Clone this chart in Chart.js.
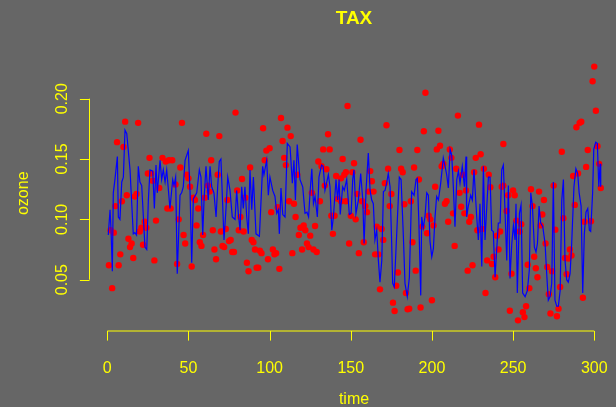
<!DOCTYPE html>
<html>
<head>
<meta charset="utf-8">
<script src="https://cdn.jsdelivr.net/npm/chart.js@4"></script>
<style>
  html, body { margin: 0; padding: 0; background: #666666; }
  canvas { display: block; }
</style>
</head>
<body>
<canvas id="taxChart" width="616" height="407"></canvas>
<script>
// Observed ozone (red points)
const redTime = [
  1, 2, 3, 4, 5, 6, 7, 8, 9, 10, 11, 12, 13, 14, 15, 16, 17, 18, 19, 20, 21, 22, 23, 24, 25, 26, 27, 28, 29, 30,
  32, 34, 36, 37, 38, 39, 40, 42, 43, 44, 45, 46, 47, 48,
  49, 50, 51, 52, 53, 54, 55, 56, 57, 58, 59, 60, 61, 62, 63, 64, 65, 66, 67, 68, 69, 70, 71, 72, 73, 74,
  75, 76, 77, 78, 79, 80, 81, 82, 83, 84, 85, 86, 87, 88, 89, 90, 91, 92, 93, 94, 95, 96, 97, 98,
  99, 100, 101, 102, 103, 104, 105, 106, 107, 108, 109, 110, 111, 112, 113, 114, 115, 116, 117, 118, 119, 120,
  121, 122, 123, 124, 125, 126, 127, 128, 129, 130, 131, 132, 133, 134, 135, 136, 137, 138, 139, 140, 141, 142,
  144, 144, 145, 146, 147,
  147, 148, 149, 150, 151, 152, 153, 154, 155, 156, 157, 158, 159, 160, 161, 162, 163, 164, 165, 166, 167, 168,
  169, 170, 171, 172, 173, 174, 175, 176, 177, 178, 179, 180, 181, 182, 183, 184, 185, 186, 187, 188, 189, 190,
  191, 192, 193, 194, 195, 196,
  197, 198, 199, 200, 201, 202, 203, 204, 205, 206, 207, 208, 209, 210, 211, 212, 213, 214, 215, 216, 217, 218,
  219, 220, 221, 222, 223, 224, 225, 226, 227, 228, 229, 230, 231, 232, 233, 234, 235, 236, 237, 238, 239, 240,
  241, 242, 243, 244, 244,
  246, 247, 248, 249, 250, 251, 252, 253, 254, 255, 256, 257, 258, 259, 260, 261, 262, 263, 264, 265, 266, 267,
  268, 269, 270, 271, 272, 273, 274, 275, 276, 277, 278, 279, 280, 281, 282, 283, 284, 285, 286, 287, 288, 289,
  290, 291, 292, 293, 294, 295, 296, 298, 299, 300, 301, 302, 303, 304
];
const redOzone = [
  0.062, 0.091, 0.043, 0.089, 0.111, 0.164, 0.062, 0.071, 0.115, 0.160, 0.181, 0.120, 0.084, 0.077, 0.080, 0.068, 0.119, 0.121, 0.180, 0.090, 0.093, 0.079, 0.098, 0.093, 0.138, 0.151, 0.138, 0.132, 0.066, 0.099,
  0.126, 0.151, 0.148, 0.109, 0.149, 0.109, 0.149, 0.129, 0.063, 0.100, 0.143, 0.180, 0.087, 0.080,
  0.137, 0.134, 0.127, 0.061, 0.118, 0.116, 0.095, 0.109, 0.081, 0.078, 0.087, 0.118, 0.171, 0.128, 0.123, 0.149, 0.091, 0.075, 0.067, 0.137, 0.169, 0.090, 0.078, 0.077, 0.092, 0.116,
  0.082, 0.083, 0.073, 0.073, 0.1885, 0.124, 0.091, 0.102, 0.1335, 0.090, 0.118, 0.064, 0.057, 0.143, 0.083, 0.081, 0.075, 0.060, 0.060, 0.074, 0.072, 0.1755, 0.149, 0.157,
  0.067, 0.159, 0.106, 0.075, 0.071, 0.072, 0.110, 0.059, 0.184, 0.165, 0.151, 0.145, 0.176, 0.115, 0.169, 0.072, 0.113, 0.102, 0.137, 0.087, 0.093, 0.075,
  0.095, 0.091, 0.080, 0.077, 0.0865, 0.122, 0.075, 0.0945, 0.073, 0.148, 0.115, 0.144, 0.158, 0.128, 0.1415, 0.1705, 0.158, 0.103, 0.088, 0.103, 0.136, 0.117,
  0.115, 0.134, 0.150, 0.137, 0.115,
  0.139, 0.194, 0.080, 0.103, 0.139, 0.1465, 0.100, 0.121, 0.072, 0.166, 0.115, 0.081, 0.111, 0.106, 0.123, 0.140, 0.1316, 0.123, 0.071, 0.094, 0.071, 0.042,
  0.092, 0.083, 0.130, 0.178, 0.142, 0.111, 0.121, 0.031, 0.024, 0.045, 0.056, 0.1575, 0.142, 0.139, 0.1125, 0.039, 0.0255, 0.026, 0.115, 0.081, 0.143, 0.0575,
  0.1575, 0.133, 0.027, 0.094, 0.173, 0.205,
  0.0885, 0.103, 0.100, 0.033, 0.095, 0.127, 0.158, 0.1735, 0.161, 0.144, 0.146, 0.113, 0.115, 0.098, 0.158, 0.151, 0.105, 0.078, 0.142, 0.186, 0.122, 0.1105,
  0.137, 0.105, 0.124, 0.0575, 0.098, 0.102, 0.062, 0.139, 0.151, 0.091, 0.1785, 0.154, 0.092, 0.142, 0.039, 0.066, 0.137, 0.1266, 0.063, 0.069, 0.052, 0.0865,
  0.075, 0.090, 0.127, 0.1625, 0.128,
  0.107, 0.120, 0.0243, 0.055, 0.124, 0.120, 0.099, 0.0163, 0.090, 0.096, 0.023, 0.019, 0.028, 0.0624, 0.043, 0.125, 0.111, 0.069, 0.0595, 0.052, 0.123, 0.095,
  0.104, 0.116, 0.080, 0.0605, 0.038, 0.022, 0.057, 0.128, 0.0915, 0.0197, 0.026, 0.044, 0.156, 0.101, 0.068, 0.0545, 0.0675, 0.075, 0.070, 0.136, 0.112, 0.1764,
  0.138, 0.180, 0.181, 0.035, 0.098, 0.1435, 0.1575, 0.0985, 0.2145, 0.2266, 0.190, 0.1606, 0.146, 0.126
];

// Fitted series (blue line)
const blueTime = [
  0.6, 1.7, 2.3, 3.1, 3.7, 4.7, 6.2, 6.8, 7.8, 8.9, 9.9, 10.9, 12, 14, 16, 17, 18, 19.1, 20.1, 21.2, 23.2, 24.3, 25.3, 26.3, 28, 29, 30, 30.8,
  32.5, 33.5, 34.5, 35.6, 36.6, 38.6, 40.3, 41.1, 42.1, 43.1, 44.8, 45.8, 46.8, 47.9, 49.9, 51, 52, 53, 55.1, 56.7, 57.7, 58.8, 59.6, 60.8,
  62.2, 63.3, 64.3, 65.7, 67, 68, 69, 70, 71.9, 73, 74.2, 75.6, 77, 78.7, 79.7, 80.7, 81.8, 82.8, 83.8, 84.8, 85.9, 86.9, 87.9, 89, 90,
  91.6, 93.7, 95.7, 96.5, 98.2, 99.2, 100.2, 101.9, 103.3, 104.4, 105.4, 106, 107, 108.1, 109.5, 110.9, 112.6, 114, 115, 115.9, 117,
  118.7, 120.4, 121.8, 123, 124, 124.9, 126, 127, 128, 129.4, 130.4, 132, 133, 134.1, 136.2, 137.2, 138.3, 139.3, 140.9, 141.9, 142.8,
  143.5, 145, 146, 147.5, 149.1, 150.2, 151.2, 152, 153.2, 154.7, 156.1, 157.4, 158.2, 159.4, 160.8, 161.9, 162.9, 163.9, 164.9, 166,
  167, 168, 169.1, 170.1, 171.1, 172.1, 173.1, 174.2, 175.2, 175.8, 176.8, 178.3, 179.9, 181, 182.4, 183.4, 184.8, 186.1, 187.5, 189,
  190.2, 191, 191.9, 193.1, 193.7, 194.7, 195.7, 196.8, 197.8, 198.8, 199.9, 200.9, 201.9, 202.9, 204, 205.4, 207, 208.1, 209.1, 210.1,
  211.2, 212.2, 213.2, 214.2, 215.3, 216.3, 217.3, 218.7, 220, 221, 221.4, 222.4, 223.9, 224.9, 225.9, 227.6, 228.6, 229.6, 230.7,
  231.7, 232.7, 233.8, 234.8, 235.8, 236.8, 237.8, 238.9, 239.9, 240.9, 242, 243, 244, 245, 246.1, 247.1, 248.1, 249.2, 250.2, 251.2,
  251.8, 252.6, 253.9, 254.9, 255.9, 257.4, 258.8, 260, 260.9, 261.9, 263.1, 264.1, 265, 266, 267, 268.3, 269.7, 270.7, 271.7, 272.8,
  273.8, 274.8, 275.8, 276.9, 277.9, 279, 280, 281, 282, 283, 284, 285.1, 286.1, 287.5, 288.7, 289.8, 290.7, 291.9, 292.9, 293.9,
  294.9, 296, 297, 297.8, 299, 299.7, 300.9, 301.9, 302.8, 303.6, 304
];
const blueOzone = [
  0.087, 0.108, 0.091, 0.057, 0.122, 0.133, 0.152, 0.102, 0.100, 0.131, 0.135, 0.174, 0.171, 0.141, 0.088, 0.089, 0.087, 0.144, 0.131, 0.128, 0.077, 0.075, 0.116, 0.141, 0.140, 0.109, 0.145, 0.122,
  0.149, 0.133, 0.141, 0.131, 0.141, 0.109, 0.133, 0.128, 0.135, 0.055, 0.120, 0.122, 0.127, 0.149, 0.157, 0.122, 0.064, 0.117, 0.122, 0.141, 0.135, 0.087, 0.116, 0.144,
  0.116, 0.144, 0.127, 0.122, 0.102, 0.127, 0.148, 0.150, 0.083, 0.106, 0.135, 0.124, 0.102, 0.100, 0.124, 0.105, 0.091, 0.127, 0.109, 0.127, 0.102, 0.088, 0.141, 0.108, 0.135,
  0.088, 0.086, 0.144, 0.137, 0.149, 0.120, 0.135, 0.124, 0.119, 0.105, 0.108, 0.088, 0.126, 0.104, 0.102, 0.163, 0.160, 0.130, 0.149, 0.116, 0.162,
  0.133, 0.127, 0.105, 0.106, 0.102, 0.122, 0.142, 0.113, 0.119, 0.102, 0.135, 0.145, 0.144, 0.124, 0.137, 0.127, 0.091, 0.102, 0.133, 0.116, 0.133,
  0.104, 0.127, 0.124, 0.133, 0.104, 0.105, 0.133, 0.141, 0.105, 0.116, 0.138, 0.116, 0.080, 0.124, 0.155, 0.124, 0.116, 0.113, 0.083, 0.091,
  0.066, 0.048, 0.066, 0.123, 0.124, 0.130, 0.138, 0.127, 0.080, 0.047, 0.044, 0.088, 0.135, 0.133, 0.086, 0.047, 0.036, 0.052, 0.123, 0.120,
  0.133, 0.134, 0.100, 0.037, 0.102, 0.093, 0.102, 0.122, 0.120, 0.082, 0.069, 0.076, 0.102, 0.119, 0.116, 0.130, 0.151, 0.144, 0.137, 0.126,
  0.158, 0.153, 0.127, 0.094, 0.133, 0.140, 0.130, 0.144, 0.127, 0.152, 0.102, 0.111, 0.120, 0.116, 0.141, 0.102, 0.083, 0.113, 0.061,
  0.144, 0.083, 0.111, 0.135, 0.135, 0.091, 0.090, 0.052, 0.075, 0.097, 0.097, 0.141, 0.145, 0.108, 0.066, 0.128, 0.051, 0.080, 0.095, 0.083,
  0.113, 0.039, 0.105, 0.112, 0.039, 0.036, 0.041, 0.058, 0.122, 0.111, 0.077, 0.073, 0.080, 0.111, 0.097, 0.094, 0.080, 0.055, 0.033, 0.036,
  0.047, 0.131, 0.033, 0.028, 0.028, 0.041, 0.116, 0.133, 0.066, 0.050, 0.048, 0.055, 0.080, 0.127, 0.142, 0.138, 0.122, 0.111, 0.039, 0.088,
  0.106, 0.109, 0.091, 0.090, 0.122, 0.158, 0.164, 0.163, 0.127, 0.146, 0.127
];

// Axis ticks
const xTicks = [0, 50, 100, 150, 200, 250, 300];
const yTicks = [0.05, 0.10, 0.15, 0.20];
const yTickLabels = ['0.05', '0.10', '0.15', '0.20'];

const fg = '#FFFF00';
const font16 = '16px "Liberation Sans", Arial, sans-serif';

// R style axes, drawn on the chart's own scales
const rAxes = {
  id: 'rAxes',
  beforeDraw(chart) {
    const c = chart.ctx;
    c.save();
    c.fillStyle = '#666666';
    c.fillRect(0, 0, chart.width, chart.height);
    c.restore();
  },
  afterDraw(chart) {
    const c = chart.ctx;
    const xs = chart.scales.x, ys = chart.scales.y;
    const area = chart.chartArea;
    const tick = 9.6;
    c.save();
    c.strokeStyle = fg;
    c.fillStyle = fg;
    c.lineWidth = 1;

    // x axis
    const yb = area.bottom + 0.5;
    c.beginPath();
    c.moveTo(xs.getPixelForValue(xTicks[0]), yb);
    c.lineTo(xs.getPixelForValue(xTicks[xTicks.length - 1]), yb);
    xTicks.forEach(t => {
      const px = Math.round(xs.getPixelForValue(t)) + 0.5;
      c.moveTo(px, yb);
      c.lineTo(px, yb + tick);
    });
    c.stroke();
    c.font = font16;
    c.textAlign = 'center';
    c.textBaseline = 'alphabetic';
    xTicks.forEach(t => c.fillText(String(t), xs.getPixelForValue(t), 373));
    c.fillText('time', 354, 404);

    // y axis
    const xl = Math.round(area.left) + 0.5;
    c.beginPath();
    c.moveTo(xl, ys.getPixelForValue(yTicks[0]));
    c.lineTo(xl, ys.getPixelForValue(yTicks[yTicks.length - 1]));
    yTicks.forEach(v => {
      const py = Math.round(ys.getPixelForValue(v)) + 0.5;
      c.moveTo(xl, py);
      c.lineTo(xl - tick, py);
    });
    c.stroke();
    yTicks.forEach((v, i) => {
      c.save();
      c.translate(67, ys.getPixelForValue(v));
      c.rotate(-Math.PI / 2);
      c.fillText(yTickLabels[i], 0, 0);
      c.restore();
    });
    c.save();
    c.translate(28, (area.top + area.bottom) / 2);
    c.rotate(-Math.PI / 2);
    c.fillText('ozone', 0, 0);
    c.restore();

    // title
    c.font = 'bold 19px "Liberation Sans", Arial, sans-serif';
    c.fillText('TAX', 354, 24);
    c.restore();
  }
};

new Chart(document.getElementById('taxChart'), {
  type: 'scatter',
  data: {
    datasets: [
      {
        type: 'line',
        label: 'fitted',
        data: blueTime.map((t, i) => ({ x: t, y: blueOzone[i] })),
        borderColor: '#0000FF',
        borderWidth: 1.2,
        pointRadius: 0,
        tension: 0,
        fill: false,
        order: 0
      },
      {
        label: 'ozone',
        data: redTime.map((t, i) => ({ x: t, y: redOzone[i] })),
        backgroundColor: '#FF0000',
        borderWidth: 0,
        pointRadius: 3.2,
        pointHoverRadius: 3.2,
        order: 1
      }
    ]
  },
  options: {
    responsive: false,
    devicePixelRatio: 1,
    animation: false,
    layout: { autoPadding: false, padding: { left: 89.3, right: 0, top: 56, bottom: 76.5 } },
    plugins: { legend: { display: false }, title: { display: false }, tooltip: { enabled: false } },
    scales: {
      x: { type: 'linear', display: false, min: -11.09, max: 313.4 },
      y: { type: 'linear', display: false, min: 0.0079, max: 0.2354 }
    }
  },
  plugins: [rAxes]
});
</script>
</body>
</html>
